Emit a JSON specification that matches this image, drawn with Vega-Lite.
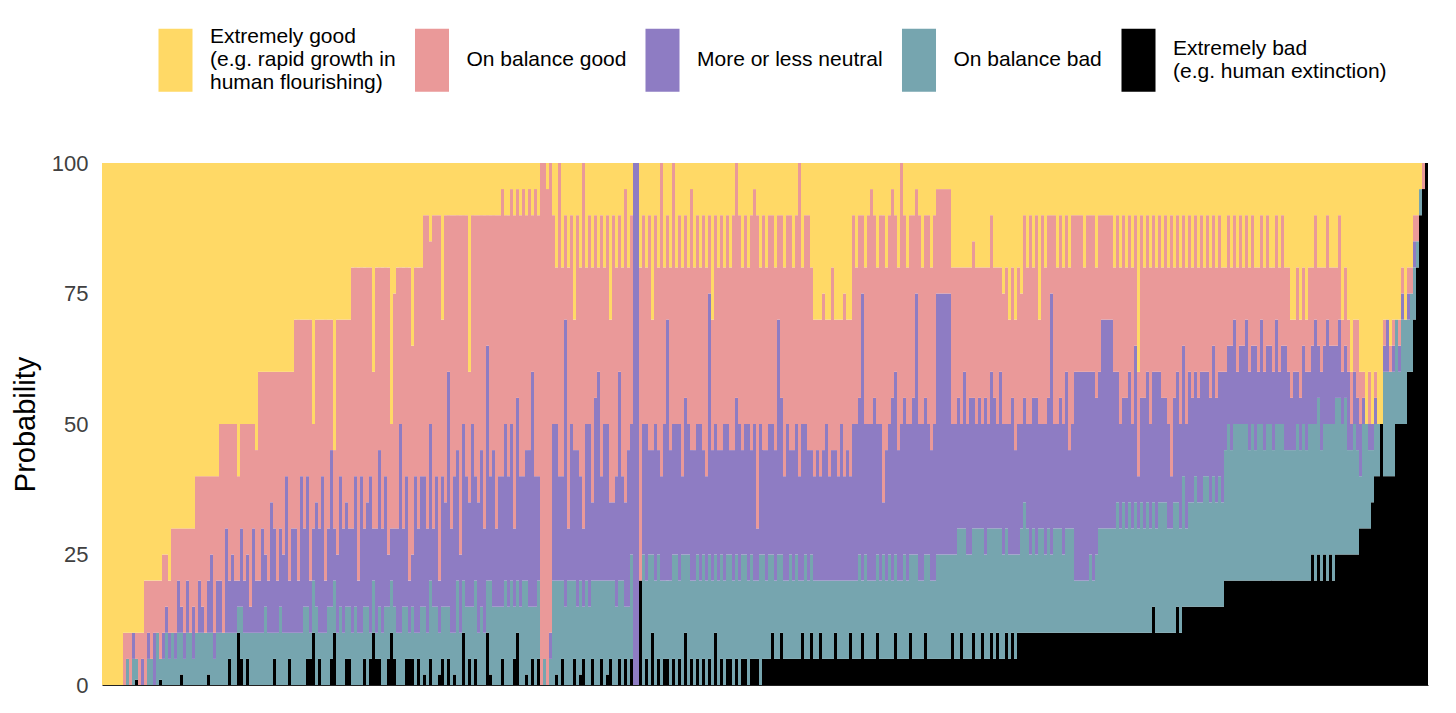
{
  "$schema": "https://vega.github.io/schema/vega-lite/v6.json",
  "width": 1326,
  "height": 522,
  "autosize": {"type": "none"},
  "padding": {"left": 102, "top": 163, "right": 28, "bottom": 28},
  "background": "white",
  "config": {
    "view": {"stroke": null},
    "font": "Liberation Sans",
    "style": {"guide-label": {"lineHeight": 11.5}}
  },
  "data": {
    "values": [
      {"id":0,"xg":100,"g":0,"n":0,"b":0,"xb":0},
      {"id":1,"xg":100,"g":0,"n":0,"b":0,"xb":0},
      {"id":2,"xg":100,"g":0,"n":0,"b":0,"xb":0},
      {"id":3,"xg":100,"g":0,"n":0,"b":0,"xb":0},
      {"id":4,"xg":100,"g":0,"n":0,"b":0,"xb":0},
      {"id":5,"xg":100,"g":0,"n":0,"b":0,"xb":0},
      {"id":6,"xg":100,"g":0,"n":0,"b":0,"xb":0},
      {"id":7,"xg":90,"g":10,"n":0,"b":0,"xb":0},
      {"id":8,"xg":90,"g":5,"n":0,"b":5,"xb":0},
      {"id":9,"xg":90,"g":10,"n":0,"b":0,"xb":0},
      {"id":10,"xg":90,"g":0,"n":5,"b":5,"xb":0},
      {"id":11,"xg":90,"g":5,"n":0,"b":4,"xb":1},
      {"id":12,"xg":90,"g":10,"n":0,"b":0,"xb":0},
      {"id":13,"xg":90,"g":5,"n":5,"b":0,"xb":0},
      {"id":14,"xg":80,"g":20,"n":0,"b":0,"xb":0},
      {"id":15,"xg":80,"g":10,"n":5,"b":5,"xb":0},
      {"id":16,"xg":80,"g":15,"n":0,"b":5,"xb":0},
      {"id":17,"xg":80,"g":10,"n":10,"b":0,"xb":0},
      {"id":18,"xg":80,"g":10,"n":0,"b":10,"xb":0},
      {"id":19,"xg":80,"g":15,"n":0,"b":4,"xb":1},
      {"id":20,"xg":75,"g":15,"n":5,"b":5,"xb":0},
      {"id":21,"xg":75,"g":10,"n":5,"b":10,"xb":0},
      {"id":22,"xg":80,"g":10,"n":5,"b":5,"xb":0},
      {"id":23,"xg":70,"g":20,"n":0,"b":10,"xb":0},
      {"id":24,"xg":70,"g":20,"n":5,"b":5,"xb":0},
      {"id":25,"xg":70,"g":10,"n":10,"b":10,"xb":0},
      {"id":26,"xg":70,"g":15,"n":5,"b":8,"xb":2},
      {"id":27,"xg":70,"g":20,"n":5,"b":5,"xb":0},
      {"id":28,"xg":70,"g":10,"n":10,"b":10,"xb":0},
      {"id":29,"xg":70,"g":20,"n":0,"b":10,"xb":0},
      {"id":30,"xg":70,"g":15,"n":10,"b":5,"xb":0},
      {"id":31,"xg":60,"g":30,"n":0,"b":10,"xb":0},
      {"id":32,"xg":60,"g":20,"n":10,"b":10,"xb":0},
      {"id":33,"xg":60,"g":25,"n":5,"b":10,"xb":0},
      {"id":34,"xg":60,"g":30,"n":0,"b":10,"xb":0},
      {"id":35,"xg":60,"g":20,"n":10,"b":8,"xb":2},
      {"id":36,"xg":60,"g":15,"n":15,"b":10,"xb":0},
      {"id":37,"xg":60,"g":30,"n":5,"b":5,"xb":0},
      {"id":38,"xg":60,"g":20,"n":10,"b":10,"xb":0},
      {"id":39,"xg":50,"g":30,"n":10,"b":10,"xb":0},
      {"id":40,"xg":50,"g":40,"n":0,"b":10,"xb":0},
      {"id":41,"xg":50,"g":20,"n":20,"b":10,"xb":0},
      {"id":42,"xg":50,"g":30,"n":10,"b":5,"xb":5},
      {"id":43,"xg":50,"g":25,"n":15,"b":10,"xb":0},
      {"id":44,"xg":50,"g":30,"n":10,"b":10,"xb":0},
      {"id":45,"xg":60,"g":20,"n":5,"b":5,"xb":10},
      {"id":46,"xg":50,"g":20,"n":15,"b":10,"xb":5},
      {"id":47,"xg":50,"g":30,"n":10,"b":10,"xb":0},
      {"id":48,"xg":50,"g":25,"n":15,"b":5,"xb":5},
      {"id":49,"xg":50,"g":35,"n":5,"b":10,"xb":0},
      {"id":50,"xg":50,"g":20,"n":20,"b":10,"xb":0},
      {"id":51,"xg":55,"g":25,"n":10,"b":10,"xb":0},
      {"id":52,"xg":40,"g":40,"n":10,"b":10,"xb":0},
      {"id":53,"xg":40,"g":30,"n":20,"b":10,"xb":0},
      {"id":54,"xg":40,"g":35,"n":10,"b":15,"xb":0},
      {"id":55,"xg":40,"g":40,"n":10,"b":10,"xb":0},
      {"id":56,"xg":40,"g":25,"n":25,"b":10,"xb":0},
      {"id":57,"xg":40,"g":30,"n":20,"b":5,"xb":5},
      {"id":58,"xg":40,"g":40,"n":10,"b":10,"xb":0},
      {"id":59,"xg":40,"g":30,"n":15,"b":15,"xb":0},
      {"id":60,"xg":40,"g":35,"n":15,"b":10,"xb":0},
      {"id":61,"xg":40,"g":20,"n":30,"b":10,"xb":0},
      {"id":62,"xg":40,"g":40,"n":10,"b":5,"xb":5},
      {"id":63,"xg":40,"g":30,"n":20,"b":10,"xb":0},
      {"id":64,"xg":30,"g":40,"n":20,"b":10,"xb":0},
      {"id":65,"xg":30,"g":50,"n":10,"b":10,"xb":0},
      {"id":66,"xg":30,"g":30,"n":30,"b":10,"xb":0},
      {"id":67,"xg":30,"g":40,"n":15,"b":15,"xb":0},
      {"id":68,"xg":30,"g":30,"n":25,"b":10,"xb":5},
      {"id":69,"xg":30,"g":50,"n":10,"b":5,"xb":5},
      {"id":70,"xg":50,"g":20,"n":10,"b":10,"xb":10},
      {"id":71,"xg":30,"g":35,"n":20,"b":15,"xb":0},
      {"id":72,"xg":30,"g":40,"n":20,"b":5,"xb":5},
      {"id":73,"xg":30,"g":30,"n":30,"b":10,"xb":0},
      {"id":74,"xg":30,"g":50,"n":10,"b":10,"xb":0},
      {"id":75,"xg":30,"g":40,"n":15,"b":15,"xb":0},
      {"id":76,"xg":30,"g":25,"n":30,"b":10,"xb":5},
      {"id":77,"xg":55,"g":15,"n":10,"b":10,"xb":10},
      {"id":78,"xg":30,"g":45,"n":15,"b":10,"xb":0},
      {"id":79,"xg":30,"g":30,"n":25,"b":15,"xb":0},
      {"id":80,"xg":30,"g":40,"n":20,"b":10,"xb":0},
      {"id":81,"xg":30,"g":35,"n":20,"b":10,"xb":5},
      {"id":82,"xg":30,"g":40,"n":15,"b":10,"xb":5},
      {"id":83,"xg":20,"g":50,"n":20,"b":10,"xb":0},
      {"id":84,"xg":20,"g":40,"n":25,"b":15,"xb":0},
      {"id":85,"xg":20,"g":60,"n":10,"b":10,"xb":0},
      {"id":86,"xg":20,"g":40,"n":30,"b":10,"xb":0},
      {"id":87,"xg":20,"g":50,"n":15,"b":10,"xb":5},
      {"id":88,"xg":20,"g":45,"n":20,"b":15,"xb":0},
      {"id":89,"xg":20,"g":40,"n":30,"b":5,"xb":5},
      {"id":90,"xg":40,"g":30,"n":10,"b":10,"xb":10},
      {"id":91,"xg":20,"g":50,"n":20,"b":5,"xb":5},
      {"id":92,"xg":20,"g":35,"n":30,"b":10,"xb":5},
      {"id":93,"xg":20,"g":50,"n":20,"b":10,"xb":0},
      {"id":94,"xg":20,"g":40,"n":25,"b":15,"xb":0},
      {"id":95,"xg":20,"g":55,"n":10,"b":10,"xb":5},
      {"id":96,"xg":50,"g":20,"n":10,"b":10,"xb":10},
      {"id":97,"xg":25,"g":45,"n":15,"b":10,"xb":5},
      {"id":98,"xg":20,"g":50,"n":20,"b":10,"xb":0},
      {"id":99,"xg":20,"g":30,"n":40,"b":10,"xb":0},
      {"id":100,"xg":20,"g":50,"n":15,"b":15,"xb":0},
      {"id":101,"xg":20,"g":40,"n":25,"b":10,"xb":5},
      {"id":102,"xg":20,"g":60,"n":10,"b":5,"xb":5},
      {"id":103,"xg":35,"g":40,"n":10,"b":10,"xb":5},
      {"id":104,"xg":20,"g":40,"n":30,"b":10,"xb":0},
      {"id":105,"xg":20,"g":50,"n":20,"b":5,"xb":5},
      {"id":106,"xg":20,"g":40,"n":25,"b":15,"xb":0},
      {"id":107,"xg":10,"g":50,"n":25,"b":13,"xb":2},
      {"id":108,"xg":10,"g":60,"n":20,"b":10,"xb":0},
      {"id":109,"xg":15,"g":35,"n":30,"b":15,"xb":5},
      {"id":110,"xg":10,"g":60,"n":15,"b":15,"xb":0},
      {"id":111,"xg":10,"g":50,"n":25,"b":15,"xb":0},
      {"id":112,"xg":10,"g":70,"n":10,"b":8,"xb":2},
      {"id":113,"xg":30,"g":30,"n":25,"b":10,"xb":5},
      {"id":114,"xg":10,"g":55,"n":20,"b":15,"xb":0},
      {"id":115,"xg":10,"g":30,"n":45,"b":10,"xb":5},
      {"id":116,"xg":10,"g":60,"n":20,"b":10,"xb":0},
      {"id":117,"xg":10,"g":50,"n":30,"b":8,"xb":2},
      {"id":118,"xg":10,"g":45,"n":25,"b":20,"xb":0},
      {"id":119,"xg":10,"g":65,"n":15,"b":10,"xb":0},
      {"id":120,"xg":10,"g":40,"n":30,"b":10,"xb":10},
      {"id":121,"xg":10,"g":50,"n":25,"b":15,"xb":0},
      {"id":122,"xg":40,"g":25,"n":20,"b":10,"xb":5},
      {"id":123,"xg":10,"g":40,"n":35,"b":15,"xb":0},
      {"id":124,"xg":10,"g":50,"n":20,"b":15,"xb":5},
      {"id":125,"xg":10,"g":55,"n":25,"b":10,"xb":0},
      {"id":126,"xg":10,"g":45,"n":30,"b":15,"xb":0},
      {"id":127,"xg":10,"g":60,"n":20,"b":10,"xb":0},
      {"id":128,"xg":10,"g":25,"n":45,"b":10,"xb":10},
      {"id":129,"xg":10,"g":50,"n":20,"b":18,"xb":2},
      {"id":130,"xg":10,"g":45,"n":30,"b":15,"xb":0},
      {"id":131,"xg":10,"g":60,"n":15,"b":15,"xb":0},
      {"id":132,"xg":10,"g":50,"n":25,"b":15,"xb":0},
      {"id":133,"xg":5,"g":55,"n":25,"b":10,"xb":5},
      {"id":134,"xg":10,"g":40,"n":30,"b":20,"xb":0},
      {"id":135,"xg":10,"g":50,"n":25,"b":15,"xb":0},
      {"id":136,"xg":5,"g":45,"n":30,"b":20,"xb":0},
      {"id":137,"xg":10,"g":60,"n":15,"b":10,"xb":5},
      {"id":138,"xg":5,"g":40,"n":35,"b":10,"xb":10},
      {"id":139,"xg":10,"g":50,"n":25,"b":15,"xb":0},
      {"id":140,"xg":5,"g":55,"n":20,"b":20,"xb":0},
      {"id":141,"xg":10,"g":45,"n":25,"b":18,"xb":2},
      {"id":142,"xg":5,"g":50,"n":30,"b":15,"xb":0},
      {"id":143,"xg":10,"g":30,"n":45,"b":10,"xb":5},
      {"id":144,"xg":5,"g":55,"n":25,"b":15,"xb":0},
      {"id":145,"xg":10,"g":50,"n":20,"b":15,"xb":5},
      {"id":146,"xg":0,"g":100,"n":0,"b":0,"xb":0},
      {"id":147,"xg":0,"g":95,"n":0,"b":5,"xb":0},
      {"id":148,"xg":5,"g":95,"n":0,"b":0,"xb":0},
      {"id":149,"xg":0,"g":90,"n":5,"b":5,"xb":0},
      {"id":150,"xg":10,"g":40,"n":30,"b":20,"xb":0},
      {"id":151,"xg":20,"g":30,"n":30,"b":18,"xb":2},
      {"id":152,"xg":0,"g":60,"n":20,"b":20,"xb":0},
      {"id":153,"xg":20,"g":40,"n":20,"b":15,"xb":5},
      {"id":154,"xg":10,"g":20,"n":55,"b":15,"xb":0},
      {"id":155,"xg":20,"g":50,"n":10,"b":20,"xb":0},
      {"id":156,"xg":10,"g":40,"n":30,"b":20,"xb":0},
      {"id":157,"xg":30,"g":25,"n":25,"b":15,"xb":5},
      {"id":158,"xg":10,"g":45,"n":30,"b":15,"xb":0},
      {"id":159,"xg":20,"g":40,"n":20,"b":18,"xb":2},
      {"id":160,"xg":0,"g":70,"n":15,"b":10,"xb":5},
      {"id":161,"xg":20,"g":30,"n":30,"b":20,"xb":0},
      {"id":162,"xg":10,"g":40,"n":35,"b":15,"xb":0},
      {"id":163,"xg":20,"g":45,"n":15,"b":15,"xb":5},
      {"id":164,"xg":10,"g":35,"n":35,"b":20,"xb":0},
      {"id":165,"xg":20,"g":20,"n":40,"b":20,"xb":0},
      {"id":166,"xg":10,"g":50,"n":20,"b":15,"xb":5},
      {"id":167,"xg":20,"g":30,"n":30,"b":20,"xb":0},
      {"id":168,"xg":10,"g":40,"n":30,"b":18,"xb":2},
      {"id":169,"xg":30,"g":35,"n":15,"b":15,"xb":5},
      {"id":170,"xg":10,"g":55,"n":15,"b":20,"xb":0},
      {"id":171,"xg":20,"g":40,"n":25,"b":15,"xb":0},
      {"id":172,"xg":10,"g":30,"n":40,"b":15,"xb":5},
      {"id":173,"xg":20,"g":40,"n":20,"b":20,"xb":0},
      {"id":174,"xg":5,"g":60,"n":20,"b":10,"xb":5},
      {"id":175,"xg":20,"g":35,"n":30,"b":15,"xb":0},
      {"id":176,"xg":10,"g":40,"n":25,"b":20,"xb":5},
      {"id":177,"xg":0,"g":0,"n":100,"b":0,"xb":0},
      {"id":178,"xg":0,"g":0,"n":100,"b":0,"xb":0},
      {"id":179,"xg":20,"g":60,"n":0,"b":0,"xb":20},
      {"id":180,"xg":10,"g":40,"n":25,"b":25,"xb":0},
      {"id":181,"xg":20,"g":30,"n":30,"b":15,"xb":5},
      {"id":182,"xg":10,"g":45,"n":20,"b":25,"xb":0},
      {"id":183,"xg":30,"g":25,"n":20,"b":15,"xb":10},
      {"id":184,"xg":10,"g":40,"n":30,"b":20,"xb":0},
      {"id":185,"xg":20,"g":35,"n":20,"b":20,"xb":5},
      {"id":186,"xg":0,"g":60,"n":20,"b":20,"xb":0},
      {"id":187,"xg":20,"g":30,"n":30,"b":15,"xb":5},
      {"id":188,"xg":10,"g":20,"n":50,"b":15,"xb":5},
      {"id":189,"xg":20,"g":35,"n":25,"b":20,"xb":0},
      {"id":190,"xg":0,"g":50,"n":25,"b":20,"xb":5},
      {"id":191,"xg":20,"g":30,"n":25,"b":25,"xb":0},
      {"id":192,"xg":10,"g":40,"n":30,"b":15,"xb":5},
      {"id":193,"xg":20,"g":40,"n":15,"b":25,"xb":0},
      {"id":194,"xg":10,"g":35,"n":30,"b":15,"xb":10},
      {"id":195,"xg":20,"g":30,"n":25,"b":25,"xb":0},
      {"id":196,"xg":5,"g":50,"n":25,"b":15,"xb":5},
      {"id":197,"xg":20,"g":35,"n":25,"b":20,"xb":0},
      {"id":198,"xg":10,"g":40,"n":25,"b":20,"xb":5},
      {"id":199,"xg":20,"g":30,"n":30,"b":20,"xb":0},
      {"id":200,"xg":10,"g":45,"n":20,"b":20,"xb":5},
      {"id":201,"xg":20,"g":40,"n":20,"b":20,"xb":0},
      {"id":202,"xg":10,"g":15,"n":50,"b":20,"xb":5},
      {"id":203,"xg":30,"g":25,"n":25,"b":20,"xb":0},
      {"id":204,"xg":10,"g":40,"n":25,"b":15,"xb":10},
      {"id":205,"xg":20,"g":35,"n":25,"b":20,"xb":0},
      {"id":206,"xg":10,"g":45,"n":20,"b":20,"xb":5},
      {"id":207,"xg":20,"g":30,"n":30,"b":20,"xb":0},
      {"id":208,"xg":10,"g":40,"n":25,"b":20,"xb":5},
      {"id":209,"xg":20,"g":35,"n":20,"b":20,"xb":5},
      {"id":210,"xg":10,"g":45,"n":25,"b":20,"xb":0},
      {"id":211,"xg":0,"g":45,"n":30,"b":20,"xb":5},
      {"id":212,"xg":10,"g":40,"n":30,"b":20,"xb":0},
      {"id":213,"xg":20,"g":35,"n":20,"b":20,"xb":5},
      {"id":214,"xg":10,"g":40,"n":25,"b":20,"xb":5},
      {"id":215,"xg":20,"g":30,"n":30,"b":20,"xb":0},
      {"id":216,"xg":10,"g":45,"n":20,"b":20,"xb":5},
      {"id":217,"xg":5,"g":45,"n":30,"b":15,"xb":5},
      {"id":218,"xg":10,"g":60,"n":10,"b":15,"xb":5},
      {"id":219,"xg":20,"g":30,"n":25,"b":25,"xb":0},
      {"id":220,"xg":10,"g":45,"n":20,"b":20,"xb":5},
      {"id":221,"xg":20,"g":35,"n":25,"b":15,"xb":5},
      {"id":222,"xg":10,"g":40,"n":25,"b":20,"xb":5},
      {"id":223,"xg":10,"g":40,"n":25,"b":15,"xb":10},
      {"id":224,"xg":20,"g":35,"n":25,"b":15,"xb":5},
      {"id":225,"xg":10,"g":20,"n":45,"b":20,"xb":5},
      {"id":226,"xg":10,"g":35,"n":30,"b":15,"xb":10},
      {"id":227,"xg":20,"g":40,"n":20,"b":15,"xb":5},
      {"id":228,"xg":10,"g":40,"n":30,"b":15,"xb":5},
      {"id":229,"xg":10,"g":45,"n":20,"b":20,"xb":5},
      {"id":230,"xg":20,"g":35,"n":25,"b":15,"xb":5},
      {"id":231,"xg":10,"g":40,"n":25,"b":20,"xb":5},
      {"id":232,"xg":0,"g":60,"n":20,"b":15,"xb":5},
      {"id":233,"xg":20,"g":30,"n":30,"b":10,"xb":10},
      {"id":234,"xg":10,"g":40,"n":25,"b":20,"xb":5},
      {"id":235,"xg":10,"g":45,"n":25,"b":15,"xb":5},
      {"id":236,"xg":20,"g":35,"n":20,"b":15,"xb":10},
      {"id":237,"xg":30,"g":30,"n":20,"b":15,"xb":5},
      {"id":238,"xg":30,"g":25,"n":25,"b":15,"xb":5},
      {"id":239,"xg":30,"g":30,"n":20,"b":10,"xb":10},
      {"id":240,"xg":25,"g":30,"n":25,"b":15,"xb":5},
      {"id":241,"xg":30,"g":20,"n":30,"b":15,"xb":5},
      {"id":242,"xg":30,"g":30,"n":20,"b":15,"xb":5},
      {"id":243,"xg":20,"g":35,"n":25,"b":15,"xb":5},
      {"id":244,"xg":30,"g":25,"n":25,"b":10,"xb":10},
      {"id":245,"xg":30,"g":30,"n":20,"b":15,"xb":5},
      {"id":246,"xg":30,"g":20,"n":30,"b":15,"xb":5},
      {"id":247,"xg":25,"g":35,"n":20,"b":15,"xb":5},
      {"id":248,"xg":30,"g":25,"n":25,"b":15,"xb":5},
      {"id":249,"xg":30,"g":30,"n":20,"b":10,"xb":10},
      {"id":250,"xg":10,"g":40,"n":30,"b":15,"xb":5},
      {"id":251,"xg":20,"g":30,"n":30,"b":15,"xb":5},
      {"id":252,"xg":10,"g":35,"n":30,"b":20,"xb":5},
      {"id":253,"xg":10,"g":15,"n":55,"b":10,"xb":10},
      {"id":254,"xg":20,"g":30,"n":25,"b":20,"xb":5},
      {"id":255,"xg":10,"g":40,"n":30,"b":15,"xb":5},
      {"id":256,"xg":5,"g":45,"n":30,"b":15,"xb":5},
      {"id":257,"xg":10,"g":35,"n":35,"b":15,"xb":5},
      {"id":258,"xg":20,"g":30,"n":25,"b":15,"xb":10},
      {"id":259,"xg":10,"g":40,"n":30,"b":15,"xb":5},
      {"id":260,"xg":10,"g":55,"n":10,"b":20,"xb":5},
      {"id":261,"xg":20,"g":35,"n":25,"b":15,"xb":5},
      {"id":262,"xg":10,"g":40,"n":25,"b":20,"xb":5},
      {"id":263,"xg":5,"g":40,"n":35,"b":15,"xb":5},
      {"id":264,"xg":10,"g":30,"n":35,"b":15,"xb":10},
      {"id":265,"xg":20,"g":35,"n":25,"b":15,"xb":5},
      {"id":266,"xg":0,"g":50,"n":30,"b":15,"xb":5},
      {"id":267,"xg":10,"g":35,"n":30,"b":20,"xb":5},
      {"id":268,"xg":20,"g":30,"n":30,"b":15,"xb":5},
      {"id":269,"xg":10,"g":40,"n":25,"b":15,"xb":10},
      {"id":270,"xg":10,"g":35,"n":30,"b":20,"xb":5},
      {"id":271,"xg":5,"g":20,"n":50,"b":20,"xb":5},
      {"id":272,"xg":10,"g":40,"n":30,"b":15,"xb":5},
      {"id":273,"xg":20,"g":30,"n":30,"b":15,"xb":5},
      {"id":274,"xg":10,"g":35,"n":30,"b":15,"xb":10},
      {"id":275,"xg":10,"g":40,"n":25,"b":20,"xb":5},
      {"id":276,"xg":20,"g":35,"n":25,"b":15,"xb":5},
      {"id":277,"xg":10,"g":40,"n":30,"b":15,"xb":5},
      {"id":278,"xg":5,"g":20,"n":50,"b":20,"xb":5},
      {"id":279,"xg":5,"g":20,"n":50,"b":20,"xb":5},
      {"id":280,"xg":5,"g":20,"n":50,"b":20,"xb":5},
      {"id":281,"xg":5,"g":20,"n":50,"b":20,"xb":5},
      {"id":282,"xg":5,"g":20,"n":50,"b":20,"xb":5},
      {"id":283,"xg":20,"g":30,"n":25,"b":15,"xb":10},
      {"id":284,"xg":20,"g":30,"n":25,"b":20,"xb":5},
      {"id":285,"xg":20,"g":25,"n":25,"b":25,"xb":5},
      {"id":286,"xg":20,"g":30,"n":20,"b":20,"xb":10},
      {"id":287,"xg":20,"g":20,"n":30,"b":25,"xb":5},
      {"id":288,"xg":20,"g":30,"n":25,"b":20,"xb":5},
      {"id":289,"xg":20,"g":25,"n":30,"b":20,"xb":5},
      {"id":290,"xg":15,"g":30,"n":25,"b":20,"xb":10},
      {"id":291,"xg":20,"g":30,"n":20,"b":25,"xb":5},
      {"id":292,"xg":20,"g":25,"n":25,"b":25,"xb":5},
      {"id":293,"xg":20,"g":30,"n":20,"b":20,"xb":10},
      {"id":294,"xg":20,"g":25,"n":30,"b":20,"xb":5},
      {"id":295,"xg":20,"g":30,"n":20,"b":25,"xb":5},
      {"id":296,"xg":10,"g":30,"n":30,"b":20,"xb":10},
      {"id":297,"xg":20,"g":25,"n":25,"b":25,"xb":5},
      {"id":298,"xg":20,"g":30,"n":20,"b":20,"xb":10},
      {"id":299,"xg":20,"g":20,"n":30,"b":25,"xb":5},
      {"id":300,"xg":25,"g":25,"n":25,"b":20,"xb":5},
      {"id":301,"xg":20,"g":30,"n":20,"b":20,"xb":10},
      {"id":302,"xg":30,"g":20,"n":25,"b":20,"xb":5},
      {"id":303,"xg":20,"g":25,"n":30,"b":15,"xb":10},
      {"id":304,"xg":30,"g":25,"n":20,"b":20,"xb":5},
      {"id":305,"xg":20,"g":30,"n":25,"b":15,"xb":10},
      {"id":306,"xg":25,"g":25,"n":20,"b":20,"xb":10},
      {"id":307,"xg":10,"g":35,"n":20,"b":25,"xb":10},
      {"id":308,"xg":20,"g":30,"n":20,"b":20,"xb":10},
      {"id":309,"xg":10,"g":40,"n":25,"b":15,"xb":10},
      {"id":310,"xg":20,"g":25,"n":25,"b":20,"xb":10},
      {"id":311,"xg":10,"g":35,"n":30,"b":15,"xb":10},
      {"id":312,"xg":30,"g":20,"n":20,"b":20,"xb":10},
      {"id":313,"xg":10,"g":40,"n":20,"b":20,"xb":10},
      {"id":314,"xg":20,"g":30,"n":25,"b":15,"xb":10},
      {"id":315,"xg":10,"g":35,"n":25,"b":20,"xb":10},
      {"id":316,"xg":10,"g":15,"n":50,"b":15,"xb":10},
      {"id":317,"xg":10,"g":40,"n":20,"b":20,"xb":10},
      {"id":318,"xg":20,"g":30,"n":20,"b":20,"xb":10},
      {"id":319,"xg":10,"g":35,"n":25,"b":20,"xb":10},
      {"id":320,"xg":20,"g":30,"n":25,"b":15,"xb":10},
      {"id":321,"xg":10,"g":30,"n":30,"b":20,"xb":10},
      {"id":322,"xg":20,"g":35,"n":15,"b":20,"xb":10},
      {"id":323,"xg":10,"g":40,"n":20,"b":20,"xb":10},
      {"id":324,"xg":10,"g":30,"n":40,"b":10,"xb":10},
      {"id":325,"xg":10,"g":30,"n":40,"b":10,"xb":10},
      {"id":326,"xg":10,"g":30,"n":40,"b":10,"xb":10},
      {"id":327,"xg":20,"g":20,"n":40,"b":10,"xb":10},
      {"id":328,"xg":10,"g":30,"n":40,"b":10,"xb":10},
      {"id":329,"xg":10,"g":30,"n":35,"b":15,"xb":10},
      {"id":330,"xg":10,"g":30,"n":40,"b":10,"xb":10},
      {"id":331,"xg":20,"g":25,"n":30,"b":15,"xb":10},
      {"id":332,"xg":10,"g":30,"n":30,"b":20,"xb":10},
      {"id":333,"xg":10,"g":20,"n":40,"b":20,"xb":10},
      {"id":334,"xg":10,"g":20,"n":40,"b":20,"xb":10},
      {"id":335,"xg":10,"g":20,"n":40,"b":20,"xb":10},
      {"id":336,"xg":10,"g":20,"n":40,"b":20,"xb":10},
      {"id":337,"xg":20,"g":20,"n":30,"b":20,"xb":10},
      {"id":338,"xg":10,"g":30,"n":25,"b":25,"xb":10},
      {"id":339,"xg":20,"g":30,"n":20,"b":20,"xb":10},
      {"id":340,"xg":10,"g":35,"n":20,"b":25,"xb":10},
      {"id":341,"xg":20,"g":25,"n":25,"b":20,"xb":10},
      {"id":342,"xg":10,"g":30,"n":25,"b":25,"xb":10},
      {"id":343,"xg":20,"g":30,"n":20,"b":20,"xb":10},
      {"id":344,"xg":10,"g":25,"n":30,"b":25,"xb":10},
      {"id":345,"xg":40,"g":20,"n":10,"b":20,"xb":10},
      {"id":346,"xg":10,"g":35,"n":20,"b":25,"xb":10},
      {"id":347,"xg":20,"g":25,"n":25,"b":20,"xb":10},
      {"id":348,"xg":10,"g":30,"n":25,"b":25,"xb":10},
      {"id":349,"xg":20,"g":30,"n":20,"b":20,"xb":10},
      {"id":350,"xg":10,"g":30,"n":25,"b":20,"xb":15},
      {"id":351,"xg":20,"g":20,"n":30,"b":20,"xb":10},
      {"id":352,"xg":10,"g":30,"n":25,"b":25,"xb":10},
      {"id":353,"xg":20,"g":25,"n":20,"b":25,"xb":10},
      {"id":354,"xg":10,"g":35,"n":20,"b":25,"xb":10},
      {"id":355,"xg":20,"g":30,"n":20,"b":20,"xb":10},
      {"id":356,"xg":10,"g":50,"n":10,"b":20,"xb":10},
      {"id":357,"xg":20,"g":25,"n":20,"b":25,"xb":10},
      {"id":358,"xg":10,"g":30,"n":25,"b":20,"xb":15},
      {"id":359,"xg":20,"g":30,"n":20,"b":20,"xb":10},
      {"id":360,"xg":10,"g":25,"n":25,"b":25,"xb":15},
      {"id":361,"xg":20,"g":30,"n":20,"b":15,"xb":15},
      {"id":362,"xg":10,"g":30,"n":25,"b":20,"xb":15},
      {"id":363,"xg":20,"g":25,"n":20,"b":20,"xb":15},
      {"id":364,"xg":10,"g":30,"n":20,"b":25,"xb":15},
      {"id":365,"xg":20,"g":25,"n":20,"b":20,"xb":15},
      {"id":366,"xg":10,"g":30,"n":25,"b":20,"xb":15},
      {"id":367,"xg":20,"g":20,"n":20,"b":25,"xb":15},
      {"id":368,"xg":10,"g":30,"n":20,"b":25,"xb":15},
      {"id":369,"xg":20,"g":25,"n":20,"b":20,"xb":15},
      {"id":370,"xg":10,"g":25,"n":25,"b":25,"xb":15},
      {"id":371,"xg":20,"g":25,"n":20,"b":20,"xb":15},
      {"id":372,"xg":10,"g":30,"n":20,"b":25,"xb":15},
      {"id":373,"xg":20,"g":20,"n":25,"b":20,"xb":15},
      {"id":374,"xg":20,"g":20,"n":15,"b":25,"xb":20},
      {"id":375,"xg":10,"g":25,"n":15,"b":30,"xb":20},
      {"id":376,"xg":20,"g":15,"n":20,"b":25,"xb":20},
      {"id":377,"xg":10,"g":20,"n":20,"b":30,"xb":20},
      {"id":378,"xg":20,"g":20,"n":10,"b":30,"xb":20},
      {"id":379,"xg":10,"g":25,"n":15,"b":30,"xb":20},
      {"id":380,"xg":20,"g":15,"n":15,"b":30,"xb":20},
      {"id":381,"xg":10,"g":20,"n":20,"b":30,"xb":20},
      {"id":382,"xg":20,"g":20,"n":15,"b":25,"xb":20},
      {"id":383,"xg":10,"g":25,"n":15,"b":30,"xb":20},
      {"id":384,"xg":20,"g":15,"n":20,"b":25,"xb":20},
      {"id":385,"xg":20,"g":20,"n":10,"b":30,"xb":20},
      {"id":386,"xg":10,"g":20,"n":20,"b":30,"xb":20},
      {"id":387,"xg":20,"g":20,"n":15,"b":25,"xb":20},
      {"id":388,"xg":10,"g":25,"n":15,"b":30,"xb":20},
      {"id":389,"xg":20,"g":15,"n":15,"b":30,"xb":20},
      {"id":390,"xg":20,"g":20,"n":15,"b":25,"xb":20},
      {"id":391,"xg":10,"g":20,"n":20,"b":30,"xb":20},
      {"id":392,"xg":20,"g":20,"n":10,"b":30,"xb":20},
      {"id":393,"xg":10,"g":25,"n":15,"b":30,"xb":20},
      {"id":394,"xg":20,"g":15,"n":20,"b":25,"xb":20},
      {"id":395,"xg":20,"g":20,"n":15,"b":25,"xb":20},
      {"id":396,"xg":30,"g":15,"n":10,"b":25,"xb":20},
      {"id":397,"xg":30,"g":10,"n":15,"b":25,"xb":20},
      {"id":398,"xg":20,"g":20,"n":10,"b":30,"xb":20},
      {"id":399,"xg":30,"g":15,"n":10,"b":25,"xb":20},
      {"id":400,"xg":20,"g":15,"n":15,"b":30,"xb":20},
      {"id":401,"xg":30,"g":10,"n":15,"b":25,"xb":20},
      {"id":402,"xg":20,"g":20,"n":10,"b":30,"xb":20},
      {"id":403,"xg":20,"g":15,"n":15,"b":25,"xb":25},
      {"id":404,"xg":10,"g":20,"n":20,"b":30,"xb":20},
      {"id":405,"xg":20,"g":15,"n":10,"b":30,"xb":25},
      {"id":406,"xg":20,"g":20,"n":15,"b":25,"xb":20},
      {"id":407,"xg":20,"g":15,"n":15,"b":25,"xb":25},
      {"id":408,"xg":10,"g":20,"n":20,"b":30,"xb":20},
      {"id":409,"xg":20,"g":15,"n":15,"b":25,"xb":25},
      {"id":410,"xg":20,"g":15,"n":15,"b":30,"xb":20},
      {"id":411,"xg":20,"g":15,"n":10,"b":30,"xb":25},
      {"id":412,"xg":10,"g":20,"n":15,"b":30,"xb":25},
      {"id":413,"xg":30,"g":10,"n":10,"b":25,"xb":25},
      {"id":414,"xg":20,"g":15,"n":10,"b":30,"xb":25},
      {"id":415,"xg":30,"g":10,"n":15,"b":20,"xb":25},
      {"id":416,"xg":40,"g":10,"n":5,"b":20,"xb":25},
      {"id":417,"xg":30,"g":10,"n":10,"b":25,"xb":25},
      {"id":418,"xg":30,"g":15,"n":10,"b":20,"xb":25},
      {"id":419,"xg":40,"g":10,"n":10,"b":10,"xb":30},
      {"id":420,"xg":40,"g":5,"n":5,"b":20,"xb":30},
      {"id":421,"xg":50,"g":0,"n":0,"b":20,"xb":30},
      {"id":422,"xg":40,"g":10,"n":5,"b":15,"xb":30},
      {"id":423,"xg":50,"g":0,"n":5,"b":10,"xb":35},
      {"id":424,"xg":40,"g":5,"n":5,"b":10,"xb":40},
      {"id":425,"xg":50,"g":0,"n":0,"b":10,"xb":40},
      {"id":426,"xg":50,"g":0,"n":0,"b":0,"xb":50},
      {"id":427,"xg":30,"g":5,"n":5,"b":20,"xb":40},
      {"id":428,"xg":30,"g":0,"n":10,"b":20,"xb":40},
      {"id":429,"xg":35,"g":5,"n":0,"b":20,"xb":40},
      {"id":430,"xg":30,"g":5,"n":5,"b":20,"xb":40},
      {"id":431,"xg":30,"g":0,"n":0,"b":20,"xb":50},
      {"id":432,"xg":30,"g":5,"n":5,"b":10,"xb":50},
      {"id":433,"xg":20,"g":5,"n":5,"b":20,"xb":50},
      {"id":434,"xg":30,"g":0,"n":0,"b":20,"xb":50},
      {"id":435,"xg":20,"g":5,"n":5,"b":10,"xb":60},
      {"id":436,"xg":20,"g":5,"n":0,"b":15,"xb":60},
      {"id":437,"xg":10,"g":5,"n":5,"b":10,"xb":70},
      {"id":438,"xg":10,"g":5,"n":0,"b":5,"xb":80},
      {"id":439,"xg":5,"g":0,"n":0,"b":5,"xb":90},
      {"id":440,"xg":0,"g":5,"n":0,"b":0,"xb":95},
      {"id":441,"xg":0,"g":0,"n":0,"b":0,"xb":100}
    ]
  },
  "transform": [
    {"fold": ["xb", "b", "n", "g", "xg"], "as": ["key", "value"]},
    {
      "lookup": "key",
      "from": {
        "data": {
          "values": [
            {"key": "xb", "rank": 1},
            {"key": "b", "rank": 2},
            {"key": "n", "rank": 3},
            {"key": "g", "rank": 4},
            {"key": "xg", "rank": 5}
          ]
        },
        "key": "key",
        "fields": ["rank"]
      }
    }
  ],
  "mark": {"type": "bar"},
  "encoding": {
    "x": {
      "field": "id",
      "type": "ordinal",
      "scale": {"paddingInner": 0, "paddingOuter": 0},
      "axis": {
        "labels": false,
        "ticks": false,
        "title": null,
        "grid": false,
        "domainColor": "#222222",
        "domainWidth": 1,
        "zindex": 1
      }
    },
    "y": {
      "field": "value",
      "type": "quantitative",
      "stack": "zero",
      "scale": {"domain": [0, 100], "nice": false},
      "axis": {
        "values": [0, 25, 50, 75, 100],
        "domain": false,
        "ticks": false,
        "grid": false,
        "labelFontSize": 22,
        "labelColor": "#404040",
        "labelPadding": 14,
        "title": "Probability",
        "titleFontSize": 29,
        "titleFontWeight": "normal",
        "titleColor": "#000000",
        "titleX": -77,
        "titleY": 261,
        "titleAngle": -90,
        "titleAlign": "center",
        "titleBaseline": "middle"
      }
    },
    "color": {
      "field": "key",
      "type": "nominal",
      "scale": {
        "domain": ["xg", "g", "n", "b", "xb"],
        "range": ["#ffd966", "#ea9999", "#8e7cc3", "#76a5af", "#000000"]
      },
      "legend": {
        "orient": "none",
        "legendX": 42,
        "legendY": -157.5,
        "direction": "horizontal",
        "columns": 5,
        "title": null,
        "padding": 0,
        "symbolType": "M-0.54,-0.27H0.54V1.73H-0.54Z",
        "symbolSize": 3969,
        "symbolStrokeWidth": 0,
        "symbolOpacity": 1,
        "labelFontSize": 21,
        "labelColor": "#000000",
        "labelOffset": 3,
        "labelLimit": 600,
        "columnPadding": 4.5,
        "labelExpr": "datum.label == 'xg' ? ['Extremely good', '\u2800', '(e.g. rapid growth in', '\u2800', 'human flourishing)'] : datum.label == 'g' ? ['\u2800', '\u2800', 'On balance good', '\u2800', '\u2800'] : datum.label == 'n' ? ['\u2800', '\u2800', 'More or less neutral', '\u2800', '\u2800'] : datum.label == 'b' ? ['\u2800', '\u2800', 'On balance bad', '\u2800', '\u2800'] : ['\u2800', 'Extremely bad', '\u2800', '(e.g. human extinction)', '\u2800']"
      }
    },
    "order": {"field": "rank", "type": "quantitative"}
  }
}
